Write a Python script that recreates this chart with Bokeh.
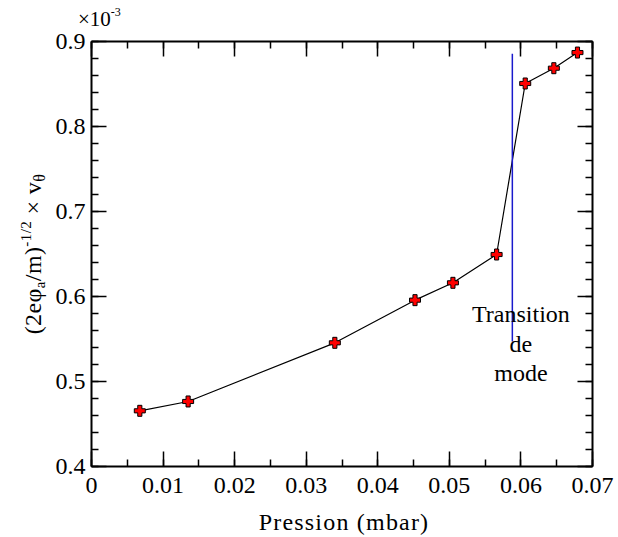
import math
from bokeh.plotting import figure
from bokeh.layouts import row, column
from bokeh.models import (Range1d, LinearAxis, SingleIntervalTicker,
                          CustomJSTickFormatter, ColumnDataSource, Div)
from bokeh.core.properties import value
from bokeh.embed import file_html
from bokeh.resources import INLINE

# ---------------- data ----------------
pression_mbar = [0.00675, 0.0135, 0.0340, 0.0452, 0.0505, 0.0566, 0.0606, 0.0646, 0.0679]
v_theta_norm_e3 = [0.4655, 0.4765, 0.5455, 0.5957, 0.6161, 0.6494, 0.8506, 0.8686, 0.8870]

transition_pression = [0.0588, 0.0588]
transition_span = [0.547, 0.8855]

annotation_text = ["Transition\nde\nmode"]
annotation_x = [0.0600]
annotation_y = [0.5447]

x_limits = (0.0, 0.07)
y_limits = (0.4, 0.9)
x_tick_step = 0.01
y_tick_step = 0.1

x_title = "Pression (mbar)"
# y title: (2eφ_a/m)^(-1/2) × v_θ
y_title_main = ["(2eφ", "/m)", " × v"]
y_title_sub = ["a", "θ"]
y_title_sup = "-1/2"
multiplier_base = "×10"
multiplier_exp = "-3"

FONT = "Liberation Serif"

# ---------------- layout geometry (pixels) ----------------
W, H = 618, 537
STRIP_L = 48      # left strip holding the y title
STRIP_T = 27      # top strip holding the multiplier
STRIP_B = 28      # bottom strip holding the x title
MAIN_W = W - STRIP_L
MAIN_H = H - STRIP_T - STRIP_B

# ---------------- main figure ----------------
p = figure(width=MAIN_W, height=MAIN_H, output_backend="svg", toolbar_location=None,
           x_range=Range1d(*x_limits), y_range=Range1d(*y_limits),
           min_border_left=91 - STRIP_L, min_border_right=26,
           min_border_top=41 - STRIP_T, min_border_bottom=MAIN_H - (41 - STRIP_T) - 425)
p.grid.visible = False
p.outline_line_color = None
p.background_fill_color = "white"
p.border_fill_color = "white"

xfmt = CustomJSTickFormatter(code="return Math.abs(tick) < 1e-9 ? '0' : tick.toFixed(2);")
yfmt = CustomJSTickFormatter(code="return tick.toFixed(1);")
blank = CustomJSTickFormatter(code="return '';")


def style_axis(ax, ticker, fmt, show_labels=True):
    ax.ticker = ticker
    ax.formatter = fmt
    ax.axis_line_width = 2
    ax.axis_line_color = "black"
    ax.major_tick_in = 15
    ax.major_tick_out = 0
    ax.minor_tick_in = 7
    ax.minor_tick_out = 0
    ax.major_tick_line_width = 1.5
    ax.minor_tick_line_width = 1.5
    ax.major_tick_line_color = "black"
    ax.minor_tick_line_color = "black"
    ax.major_label_text_font = FONT
    ax.major_label_text_color = "black"
    if show_labels:
        ax.major_label_text_font_size = "24px"
    else:
        ax.major_label_text_font_size = "1px"
        ax.major_label_standoff = 0


style_axis(p.xaxis[0], SingleIntervalTicker(interval=x_tick_step, num_minor_ticks=2), xfmt)
p.xaxis[0].major_label_standoff = 11
style_axis(p.yaxis[0], SingleIntervalTicker(interval=y_tick_step, num_minor_ticks=5), yfmt)
p.yaxis[0].major_label_standoff = 6

top_ax = LinearAxis()
style_axis(top_ax, SingleIntervalTicker(interval=x_tick_step, num_minor_ticks=2), blank, False)
p.add_layout(top_ax, "above")
right_ax = LinearAxis()
style_axis(right_ax, SingleIntervalTicker(interval=y_tick_step, num_minor_ticks=5), blank, False)
p.add_layout(right_ax, "right")

src = ColumnDataSource(dict(x=pression_mbar, y=v_theta_norm_e3))
p.line("x", "y", source=src, line_color="black", line_width=1.2)
p.scatter("x", "y", source=src, marker="plus", size=11,
          fill_color="red", line_color="black", line_width=1)

p.line(transition_pression, transition_span, line_color="#1a1acc", line_width=1.5)

p.text(x=annotation_x, y=annotation_y, text=annotation_text,
       text_font=value(FONT), text_font_size="24px", text_color="black",
       text_align="center", text_baseline="middle", text_line_height=1.13)

# ---------------- HTML strips for the titles ----------------
BASE = f'font-family:{FONT},serif;color:black;white-space:nowrap;'

y_html = (
    f'{y_title_main[0]}'
    f'<span style="font-size:15px;vertical-align:-4px;line-height:0">{y_title_sub[0]}</span>'
    f'{y_title_main[1]}'
    f'<span style="font-size:15px;vertical-align:10px;line-height:0">{y_title_sup}</span>'
    f'{y_title_main[2]}'
    f'<span style="font-size:16px;vertical-align:-4px;line-height:0">{y_title_sub[1]}</span>'
)
left_div = Div(width=STRIP_L, height=MAIN_H + STRIP_B, margin=0, text=(
    f'<div style="position:relative;width:{STRIP_L}px;height:{MAIN_H + STRIP_B}px;">'
    f'<div style="position:absolute;left:33px;top:{253.5 - STRIP_T}px;'
    f'transform:translate(-50%,-50%) rotate(-90deg);{BASE}'
    f'font-size:24px;line-height:24px;letter-spacing:0.4px;">{y_html}</div></div>'))

top_div = Div(width=W, height=STRIP_T, margin=0, text=(
    f'<div style="position:relative;width:{W}px;height:{STRIP_T}px;">'
    f'<div style="position:absolute;left:78px;top:9px;{BASE}font-size:21px;line-height:21px;">'
    f'{multiplier_base}<span style="font-size:12px;vertical-align:10px;line-height:0">'
    f'{multiplier_exp}</span></div></div>'))

bottom_div = Div(width=MAIN_W, height=STRIP_B, margin=0, text=(
    f'<div style="position:relative;width:{MAIN_W}px;height:{STRIP_B}px;">'
    f'<div style="position:absolute;left:{344 - STRIP_L}px;top:1px;transform:translateX(-50%);'
    f'{BASE}font-size:24px;line-height:24px;letter-spacing:1.2px;">{x_title}</div></div>'))

layout = column(top_div, row(left_div, column(p, bottom_div, spacing=0), spacing=0), spacing=0)

open("out.html", "w").write(file_html(layout, INLINE))
